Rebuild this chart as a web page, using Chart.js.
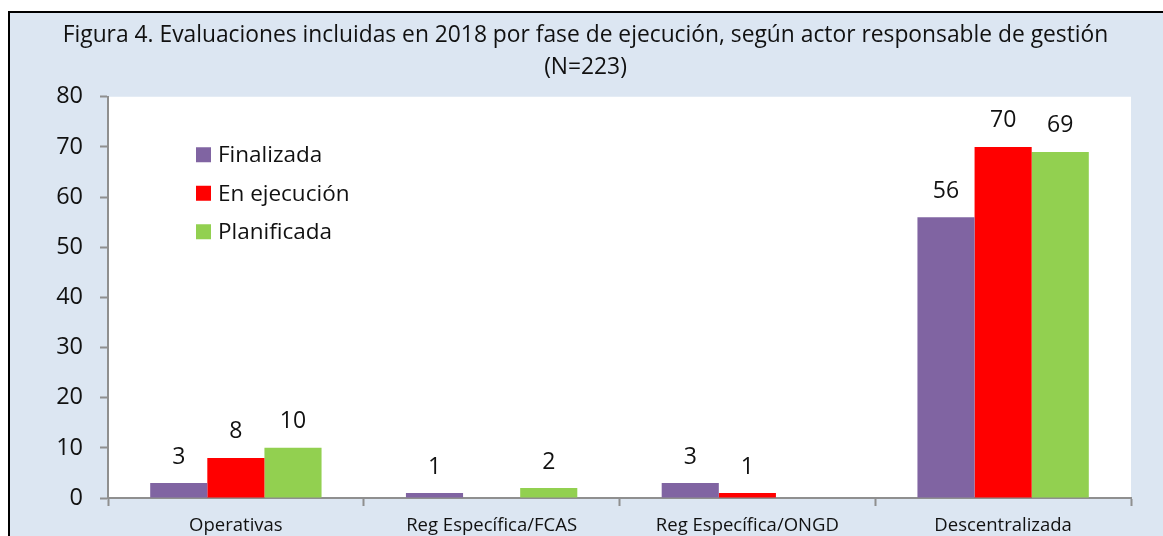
<!DOCTYPE html>
<html>
<head>
<meta charset="utf-8">
<script src="https://cdn.jsdelivr.net/npm/chart.js@4"></script>
<style>
  html, body { margin: 0; padding: 0; background: #fff; overflow: hidden; }
  #frame {
    position: absolute; left: 8px; top: 11px; width: 1300px; height: 700px;
    background: #DCE6F2; border-left: 2px solid #000; border-top: 2px solid #000;
  }
  #wrap { position: absolute; left: 8px; top: 0; width: 1155px; height: 536px; }
</style>
</head>
<body>
<div id="frame"></div>
<div id="wrap"><canvas id="chartFase" width="1155" height="536"></canvas></div>
<script>
// datos de la figura
const categorias = ['Operativas', 'Reg Específica/FCAS', 'Reg Específica/ONGD', 'Descentralizada'];
const finalizada = [3, 1, 3, 56];
const enEjecucion = [8, 0, 1, 70];
const planificada = [10, 2, 0, 69];
const ticksY = [0, 10, 20, 30, 40, 50, 60, 70, 80];
const titulo = [
  'Figura 4. Evaluaciones incluidas en 2018 por fase de ejecución, según actor responsable de gestión',
  '(N=223)'
];

const FONT = "'Open Sans', sans-serif";
const GRIS = '#8f8f8f';

// fondo blanco del area de trazado
const fondoBlanco = {
  id: 'fondoBlanco',
  beforeDraw(chart) {
    const { ctx, chartArea } = chart;
    ctx.save();
    ctx.fillStyle = '#fff';
    ctx.fillRect(chartArea.left, chartArea.top, chartArea.right - chartArea.left, chartArea.bottom - chartArea.top);
    ctx.restore();
  }
};

// etiquetas de valor sobre las barras (no se ponen los ceros)
const etiquetas = {
  id: 'etiquetas',
  afterDatasetsDraw(chart) {
    const ctx = chart.ctx;
    ctx.save();
    ctx.font = '23px ' + FONT;
    ctx.fillStyle = '#111';
    ctx.textAlign = 'center';
    ctx.textBaseline = 'middle';
    chart.data.datasets.forEach((ds, i) => {
      chart.getDatasetMeta(i).data.forEach((bar, j) => {
        const v = ds.data[j];
        if (!v) return;
        ctx.fillText(String(v), bar.x, bar.y - 26);
      });
    });
    ctx.restore();
  }
};

// leyenda dentro del area de trazado
const leyenda = {
  id: 'leyenda',
  afterDraw(chart) {
    const { ctx, chartArea } = chart;
    ctx.save();
    ctx.font = '22.5px ' + FONT;
    ctx.textBaseline = 'middle';
    chart.data.datasets.forEach((ds, i) => {
      const y = chartArea.top + 58 + i * 38.5;
      const x = chartArea.left + 88;
      ctx.fillStyle = ds.backgroundColor;
      ctx.fillRect(x, y - 7.5, 15, 15);
      ctx.fillStyle = '#111';
      ctx.fillText(ds.label, x + 22, y + 1);
    });
    ctx.restore();
  }
};

const ctx = document.getElementById('chartFase').getContext('2d');
new Chart(ctx, {
  type: 'bar',
  data: {
    labels: categorias,
    datasets: [
      { label: 'Finalizada', data: finalizada, backgroundColor: '#8064A2' },
      { label: 'En ejecución', data: enEjecucion, backgroundColor: '#FF0000' },
      { label: 'Planificada', data: planificada, backgroundColor: '#92D050' }
    ]
  },
  options: {
    responsive: false,
    animation: false,
    devicePixelRatio: 1,
    categoryPercentage: 0.67,
    barPercentage: 1.0,
    layout: { padding: { left: 32, right: 32, top: 0, bottom: 0 } },
    plugins: {
      legend: { display: false },
      tooltip: { enabled: false },
      title: {
        display: true,
        text: titulo,
        color: '#111',
        font: { family: FONT, size: 22.8, weight: 'normal', lineHeight: 1.42 },
        padding: { top: 19, bottom: 13 }
      }
    },
    scales: {
      x: {
        afterFit(scale) { scale.height = 38; },
        grid: { drawOnChartArea: false, drawTicks: true, tickLength: 8, tickColor: GRIS, tickWidth: 2 },
        border: { color: GRIS, width: 2 },
        ticks: { color: '#111', padding: 9, font: { family: FONT, size: 18.5 } }
      },
      y: {
        min: 0,
        max: 80,
        afterFit(scale) { scale.width = 68; },
        afterBuildTicks(scale) { scale.ticks = ticksY.map(v => ({ value: v })); },
        grid: { drawOnChartArea: false, drawTicks: true, tickLength: 8, tickColor: GRIS, tickWidth: 2 },
        border: { color: GRIS, width: 2 },
        ticks: { color: '#111', padding: 17, font: { family: FONT, size: 23.5 } }
      }
    }
  },
  plugins: [fondoBlanco, etiquetas, leyenda]
});
</script>
</body>
</html>
